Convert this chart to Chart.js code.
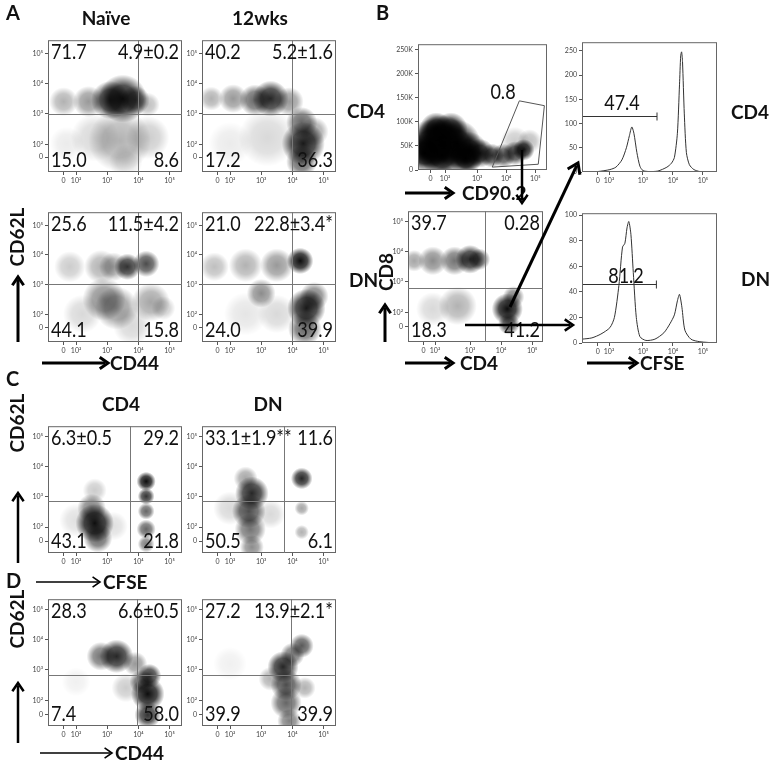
<!DOCTYPE html>
<html>
<head>
<meta charset="utf-8">
<script src="https://cdn.jsdelivr.net/npm/chart.js@4.4.0/dist/chart.umd.min.js"></script>
<style>
  body { margin:0; background:#fff; width:770px; height:764px; position:relative; overflow:hidden; font-family:Lato, sans-serif; }
  div.plot { position:absolute; }
  #overlay { position:absolute; left:0; top:0; pointer-events:none; z-index:5; }
</style>
</head>
<body>
<canvas id="overlay" width="770" height="764"></canvas>
<script>
// ---- tick labels (value in display units -> label) ----
const logTicksA = [[1.6,'0'],[2,'10²'],[3,'10³'],[4,'10⁴'],[5,'10⁵']];
const logTicksY = [[1.55,'0'],[1.97,'10²'],[3,'10³'],[4,'10⁴'],[5,'10⁵']];
const logTicksC = [[1.5,'0'],[1.97,'10²'],[3,'10³'],[4,'10⁴'],[5,'10⁵']];
const logTicksB = [[1.4,'0'],[1.9,'10²'],[3,'10³'],[4,'10⁴'],[5,'10⁵']];
const logTicksH = [[1.5,'0'],[1.87,'10²'],[3,'10³'],[4,'10⁴'],[5,'10⁵']];
const kTicks = [[0,'0'],[50,'50K'],[100,'100K'],[150,'150K'],[200,'200K'],[250,'250K']];
const histTicks1 = [[0,'0'],[50,'50'],[100,'100'],[150,'150'],[200,'200'],[250,'250']];
const histTicks2 = [[0,'0'],[20,'20'],[40,'40'],[60,'60'],[80,'80'],[100,'100']];

// ---- quadrant percentages [TL, TR, BL, BR] ----
const qNaiveCD4 = ['71.7','4.9±0.2','15.0','8.6'];
const q12CD4    = ['40.2','5.2±1.6','17.2','36.3'];
const qNaiveDN  = ['25.6','11.5±4.2','44.1','15.8'];
const q12DN     = ['21.0','22.8±3.4*','24.0','39.9'];
const qB_CD8    = ['39.7','0.28','18.3','41.2'];
const qC_CD4    = ['6.3±0.5','29.2','43.1','21.8'];
const qC_DN     = ['33.1±1.9**','11.6','50.5','6.1'];
const qD_CD4    = ['28.3','6.6±0.5','7.4','58.0'];
const qD_DN     = ['27.2','13.9±2.1*','39.9','39.9'];

// ---- cell populations: [x, y, radius px, density] ----
const popNaiveCD4 = [[3.5,3.5,20,.9],[3.1,3.45,16,.8],[3.9,3.45,12,.6],[2.4,3.4,13,.4],[1.6,3.4,12,.3],[4.3,3.3,10,.25],
  [3.4,2.1,26,.3],[2.6,2.2,20,.15],[4.3,2.2,18,.2],[1.7,2.0,14,.08],[3.6,1.4,14,.12]];
const pop12CD4 = [[3.3,3.5,15,.85],[2.8,3.45,13,.6],[2.1,3.5,12,.4],[1.4,3.5,10,.3],[3.9,3.4,12,.4],
  [4.35,2.0,18,.9],[4.3,2.7,13,.6],[4.3,1.4,13,.6],[4.7,2.4,12,.35],[3.2,2.2,24,.15],[2.0,2.0,18,.08]];
const popNaiveDN = [[3.65,3.6,11,.8],[4.25,3.7,11,.7],[2.8,3.6,14,.3],[1.8,3.6,13,.2],[3.2,3.6,12,.35],
  [2.9,2.5,18,.45],[3.3,2.2,18,.4],[4.4,2.4,16,.35],[2.2,2.0,16,.15],[3.8,1.6,16,.15],[4.8,2.2,10,.2]];
const pop12DN = [[4.25,3.8,11,.95],[3.5,3.65,14,.4],[2.5,3.65,14,.3],[1.5,3.6,12,.25],
  [3.0,2.7,12,.45],[4.45,2.2,16,.9],[4.4,1.5,14,.6],[4.7,2.6,12,.5],[2.5,2.0,18,.1],[3.5,2.0,16,.15]];
const popB_CD90 = [[1.8,60,22,1],[1.4,55,20,1],[2.3,55,20,1],[1.8,30,18,1],[2.7,40,16,.95],[1.6,85,14,1],[2.1,85,14,.9],
  [1.2,35,16,1],[2.6,25,14,1],[3.1,35,12,.85],[3.5,30,10,.75],[3.9,30,10,.7],[4.3,35,10,.75],[4.6,42,9,.9],[4.8,60,10,.25],[4.3,60,12,.2]];
const popB_CD8 = [[3.0,3.75,12,.85],[2.5,3.7,12,.55],[1.8,3.7,12,.45],[1.2,3.7,9,.35],[3.3,3.75,9,.6],
  [2.6,2.2,16,.3],[1.8,2.1,14,.15],[4.2,2.1,13,.95],[4.25,1.6,9,.7],[4.4,2.5,9,.5]];
const popC_CD4 = [[2.6,2.1,16,.95],[2.7,1.6,12,.6],[2.5,2.6,12,.5],[2.6,3.2,10,.2],[4.25,3.5,8,.95],[4.25,3.0,7,.8],
  [4.25,2.5,7,.6],[4.25,1.9,8,.6],[4.25,1.4,7,.5],[2.0,2.2,14,.12],[3.2,2.0,12,.12]];
const popC_DN = [[2.7,3.1,14,.85],[2.6,2.5,14,.7],[2.65,1.9,13,.55],[2.7,1.3,10,.45],[2.5,3.6,10,.35],[2.0,2.6,14,.15],
  [4.3,3.6,9,.85],[4.3,2.6,6,.35],[4.3,1.8,6,.3],[3.3,2.4,12,.15]];
const popD_CD4 = [[3.3,3.45,14,.85],[2.8,3.45,12,.55],[3.9,3.2,10,.4],[4.3,2.2,14,.95],[4.35,2.8,10,.8],[4.3,1.5,11,.8],
  [4.1,2.6,10,.6],[3.6,2.4,12,.2],[2.0,2.6,12,.06]];
const popD_DN = [[3.7,3.1,13,.85],[3.8,2.5,13,.7],[3.8,1.9,13,.6],[3.9,1.3,10,.5],[4.3,3.8,10,.65],[4.0,3.5,10,.55],
  [3.3,2.7,10,.3],[4.4,2.4,9,.3],[2.0,3.2,14,.06]];

// ---- CD90.2 gate polygon [x, y(K)] ----
const gateCD90 = [[4.45,144],[5.31,134],[5.1,12],[3.52,6]];

// ---- CFSE histograms [x, count] ----
const histCD4 = [[0.97,0],[1.5,1],[1.9,5],[2.1,10],[2.3,25],[2.45,50],[2.55,75],[2.63,93],[2.7,80],[2.8,40],[2.9,12],[3.0,3],
  [3.2,1],[3.5,2],[3.8,10],[3.95,18],[4.05,30],[4.15,80],[4.22,180],[4.26,240],[4.29,248],[4.32,228],[4.38,120],[4.45,40],
  [4.55,15],[4.7,5],[4.9,1],[5.47,0]];
const histDN = [[0.97,3],[1.3,4],[1.6,7],[1.9,12],[2.05,20],[2.2,45],[2.32,75],[2.4,78],[2.47,90],[2.53,95],[2.6,85],[2.68,55],
  [2.78,20],[2.9,5],[3.1,2],[3.4,3],[3.7,8],[3.9,15],[4.05,22],[4.15,33],[4.22,38],[4.3,28],[4.4,10],[4.6,3],[4.9,1],[5.47,0]];

const FONT = "Lato, 'Open Sans', sans-serif";

// narrow-looking number text: Lato squeezed horizontally
function numText(ctx, s, x, y, align) {
  ctx.save(); ctx.translate(x, y); ctx.scale(0.86, 1);
  ctx.textAlign = align; ctx.fillText(s, 0, 0); ctx.restore();
}

const plotDeco = {
  id: 'plotDeco',
  afterDatasetsDraw(chart) {
    const o = chart.options.plugins.plotDeco;
    const { ctx, chartArea: a, scales: { x, y } } = chart;
    ctx.save();
    ctx.strokeStyle = '#666'; ctx.lineWidth = 1;
    ctx.strokeRect(a.left + 0.5, a.top + 0.5, a.right - a.left - 1, a.bottom - a.top - 1);
    if (o.quad) {
      const qx = Math.round(x.getPixelForValue(o.quad[0])) + 0.5;
      const qy = Math.round(y.getPixelForValue(o.quad[1])) + 0.5;
      ctx.strokeStyle = '#777';
      ctx.beginPath(); ctx.moveTo(qx, a.top); ctx.lineTo(qx, a.bottom);
      ctx.moveTo(a.left, qy); ctx.lineTo(a.right, qy); ctx.stroke();
    }
    if (o.gate) {
      ctx.strokeStyle = '#555';
      ctx.beginPath();
      o.gate.forEach((p, i) => {
        const px = x.getPixelForValue(p[0]), py = y.getPixelForValue(p[1]);
        i ? ctx.lineTo(px, py) : ctx.moveTo(px, py);
      });
      ctx.closePath(); ctx.stroke();
    }
    if (o.bar) {
      const x0 = a.left + 1, x1 = x.getPixelForValue(o.bar[0]), by = Math.round(y.getPixelForValue(o.bar[1])) + 0.5;
      ctx.strokeStyle = '#333';
      ctx.beginPath(); ctx.moveTo(x0, by); ctx.lineTo(x1, by);
      ctx.moveTo(x1, by - 4); ctx.lineTo(x1, by + 4); ctx.stroke();
    }
    ctx.fillStyle = '#111';
    ctx.font = '21px ' + FONT;
    if (o.labels) {
      const [tl, tr, bl, br] = o.labels;
      numText(ctx, tl, a.left + 3, a.top + 19, 'left'); numText(ctx, bl, a.left + 3, a.bottom - 5, 'left');
      numText(ctx, tr, a.right - 3, a.top + 19, 'right'); numText(ctx, br, a.right - 3, a.bottom - 5, 'right');
    }
    if (o.note) numText(ctx, o.note[0], a.left + o.note[1], a.top + o.note[2], 'center');
    ctx.restore();
  }
};

function axis(min, max, ticks, isY, thick) {
  const map = new Map(ticks.map(t => [t[0], t[1]]));
  return {
    type: 'linear', min, max,
    border: { display: false },
    grid: { drawOnChartArea: false, tickLength: 3, color: '#555' },
    afterBuildTicks: s => { s.ticks = ticks.map(t => ({ value: t[0] })); },
    afterFit: s => { if (isY) s.width = thick; else s.height = thick; },
    ticks: { autoSkip: false, maxRotation: 0, padding: 2, color: '#444',
      font: { size: 7, family: FONT }, callback: v => map.get(v) ?? '' }
  };
}

// soft blob: radial gradient centred on the point
function blobFill(c) {
  const chart = c.chart, p = c.raw;
  if (!p || !chart.chartArea) return 'rgba(0,0,0,0)';
  const px = chart.scales.x.getPixelForValue(p.x), py = chart.scales.y.getPixelForValue(p.y);
  const g = chart.ctx.createRadialGradient(px, py, 0, px, py, p.r);
  g.addColorStop(0, `rgba(0,0,0,${p.a})`);
  g.addColorStop(0.55, `rgba(0,0,0,${p.a * 0.75})`);
  g.addColorStop(1, 'rgba(0,0,0,0)');
  return g;
}

function makePlot(cfg) {
  const padL = cfg.padL || 22, padB = 17;
  const d = document.createElement('div');
  d.className = 'plot';
  d.style.left = (cfg.box[0] - padL) + 'px';
  d.style.top = (cfg.box[1] - 2) + 'px';
  d.style.width = (cfg.box[2] - cfg.box[0] + padL + 2) + 'px';
  d.style.height = (cfg.box[3] - cfg.box[1] + padB + 2) + 'px';
  const c = document.createElement('canvas');
  d.appendChild(c);
  document.body.appendChild(d);
  let datasets;
  if (cfg.pops) {
    datasets = [{
      data: cfg.pops.map(p => ({ x: p[0], y: p[1], r: p[2] * 1.2, a: p[3] })),
      backgroundColor: blobFill, borderWidth: 0, clip: 0
    }];
  } else {
    datasets = [{ data: cfg.hist.map(p => ({ x: p[0], y: p[1] })), showLine: true,
      borderColor: '#333', borderWidth: 1, pointRadius: 0, tension: 0.25, clip: 0 }];
  }
  new Chart(c, {
    type: cfg.pops ? 'bubble' : 'scatter',
    data: { datasets },
    options: {
      responsive: true, maintainAspectRatio: false, animation: false,
      layout: { autoPadding: false, padding: { top: 2, right: 2, left: 0, bottom: 0 } },
      plugins: { legend: { display: false }, tooltip: { enabled: false }, plotDeco: cfg.deco },
      scales: { x: axis(cfg.x[0], cfg.x[1], cfg.xt, false, padB), y: axis(cfg.y[0], cfg.y[1], cfg.yt, true, padL) }
    },
    plugins: [plotDeco]
  });
}

const XA = [1.1, 5.4], YA = [1.05, 5.45], YC = [1.1, 5.35], YD = [1.13, 5.35];
const colL = [48, 182], colR = [202, 336];
// Panel A
makePlot({ box: [colL[0], 36, colL[1], 172], x: XA, y: YA, xt: logTicksA, yt: logTicksY, pops: popNaiveCD4, deco: { quad: [4.0, 3.0], labels: qNaiveCD4 } });
makePlot({ box: [colR[0], 36, colR[1], 172], x: XA, y: YA, xt: logTicksA, yt: logTicksY, pops: pop12CD4, deco: { quad: [4.0, 3.0], labels: q12CD4 } });
makePlot({ box: [colL[0], 208, colL[1], 342], x: XA, y: YA, xt: logTicksA, yt: logTicksY, pops: popNaiveDN, deco: { quad: [4.0, 3.0], labels: qNaiveDN } });
makePlot({ box: [colR[0], 208, colR[1], 342], x: XA, y: YA, xt: logTicksA, yt: logTicksY, pops: pop12DN, deco: { quad: [4.0, 3.0], labels: q12DN } });
// Panel C
makePlot({ box: [colL[0], 422, colL[1], 553], x: XA, y: YC, xt: logTicksA, yt: logTicksC, pops: popC_CD4, deco: { quad: [3.74, 2.84], labels: qC_CD4 } });
makePlot({ box: [colR[0], 422, colR[1], 553], x: XA, y: YC, xt: logTicksA, yt: logTicksC, pops: popC_DN, deco: { quad: [3.74, 2.84], labels: qC_DN } });
// Panel D
makePlot({ box: [colL[0], 595, colL[1], 726], x: XA, y: YD, xt: logTicksA, yt: logTicksC, pops: popD_CD4, deco: { quad: [3.97, 2.84], labels: qD_CD4 } });
makePlot({ box: [colR[0], 595, colR[1], 726], x: XA, y: YD, xt: logTicksA, yt: logTicksC, pops: popD_DN, deco: { quad: [3.95, 2.84], labels: qD_DN } });
// Panel B
makePlot({ box: [418, 40, 547, 170], padL: 26, x: [0.97, 5.4], y: [0, 262], xt: logTicksB, yt: kTicks, pops: popB_CD90, deco: { gate: gateCD90, note: ['0.8', 85, 55] } });
makePlot({ box: [408, 207, 543, 342], x: [1.0, 5.35], y: [1.0, 5.35], xt: logTicksH, yt: logTicksC, pops: popB_CD8, deco: { quad: [3.48, 2.8], labels: qB_CD8 } });
makePlot({ box: [582, 38, 717, 172], x: [0.97, 5.47], y: [0, 268], xt: logTicksH, yt: histTicks1, hist: histCD4, deco: { bar: [3.47, 115], note: ['47.4', 40, 68] } });
makePlot({ box: [582, 209, 717, 343], x: [0.97, 5.47], y: [0, 101.5], xt: logTicksH, yt: histTicks2, hist: histDN, deco: { bar: [3.45, 46], note: ['81.2', 44, 70] } });

// ---- overlay: panel letters, titles, axis arrows ----
const o = document.getElementById('overlay').getContext('2d');
function txt(s, x, y, size, align, rot) {
  o.save(); o.translate(x, y); if (rot) o.rotate(-Math.PI / 2);
  o.font = `bold ${size}px ${FONT}`; o.fillStyle = '#111'; o.textAlign = align || 'left'; o.textBaseline = 'middle';
  o.fillText(s, 0, 0); o.restore();
}
function arrow(x0, y0, x1, y1, lw, head) {
  const ang = Math.atan2(y1 - y0, x1 - x0);
  o.save(); o.strokeStyle = '#000'; o.lineWidth = lw; o.lineCap = 'butt';
  o.beginPath(); o.moveTo(x0, y0); o.lineTo(x1 - Math.cos(ang) * lw, y1 - Math.sin(ang) * lw); o.stroke();
  o.lineJoin = 'miter';
  o.beginPath();
  o.moveTo(x1 - Math.cos(ang - 0.6) * head, y1 - Math.sin(ang - 0.6) * head);
  o.lineTo(x1, y1);
  o.lineTo(x1 - Math.cos(ang + 0.6) * head, y1 - Math.sin(ang + 0.6) * head);
  o.stroke(); o.restore();
}
txt('A', 6, 14, 20); txt('B', 376, 14, 20); txt('C', 6, 380, 20); txt('D', 6, 582, 20);
txt('Naïve', 106, 19, 19, 'center'); txt('12wks', 260, 19, 19, 'center');
txt('CD4', 347, 112, 19); txt('DN', 349, 281, 19);
txt('CD62L', 18, 237, 19, 'center', true); arrow(18, 342, 18, 277, 3, 10);
arrow(42, 363, 108, 363, 3, 10); txt('CD44', 110, 364, 19);
txt('CD4', 121, 405, 19, 'center'); txt('DN', 268, 405, 19, 'center');
txt('CD62L', 18, 423, 19, 'center', true); arrow(18, 563, 18, 493, 2.5, 10);
arrow(36, 582, 100, 582, 1.6, 9); txt('CFSE', 103, 583, 19);
txt('CD62L', 18, 619, 19, 'center', true); arrow(18, 743, 18, 683, 2.5, 10);
arrow(40, 753, 112, 753, 1.6, 9); txt('CD44', 115, 754, 19);
// panel B
arrow(405, 193, 453, 193, 3, 10); txt('CD90.2', 462, 194, 19);
arrow(405, 363, 453, 363, 3, 10); txt('CD4', 460, 364, 19);
arrow(587, 363, 637, 363, 3, 10); txt('CFSE', 640, 364, 19);
txt('CD8', 387, 272, 19, 'center', true); arrow(385, 342, 385, 305, 3, 10);
txt('CD4', 731, 113, 19); txt('DN', 741, 280, 19);
arrow(522, 150, 522, 203, 2.5, 10);
arrow(510, 307, 578, 163, 3, 12);
arrow(465, 325, 573, 325, 2.5, 10);
</script>
</body>
</html>
